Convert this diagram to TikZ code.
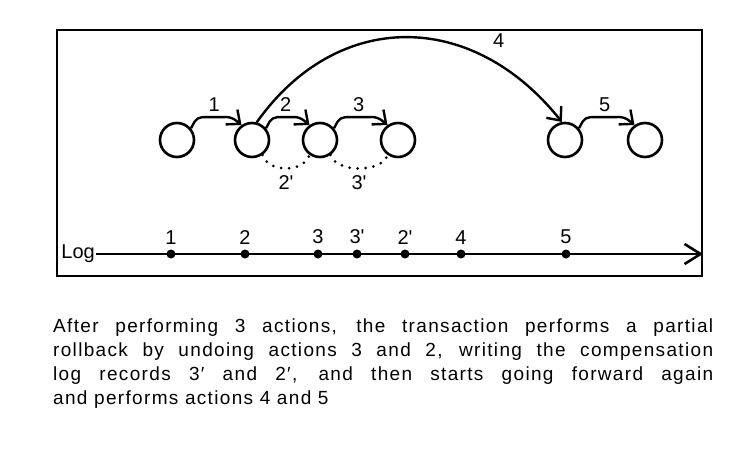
\documentclass[tikz,border=0pt]{standalone}
\usepackage{fontspec}
\setmainfont{Liberation Sans}
\newfontfamily\capfont{Liberation Sans}[LetterSpace=7]
\usetikzlibrary{arrows.meta, calc}

\tikzset{
  state/.style={circle, draw, line width=2.6pt, minimum size=34pt, inner sep=0pt},
  act/.style={-{Straight Barb[length=11pt, width=19pt]}, line width=2.4pt},
  undo/.style={line width=3pt, line cap=round, dash pattern=on 0pt off 8pt},
  lbl/.style={font=\fontsize{20}{22}\selectfont, inner sep=1pt},
  rec/.style={circle, fill=black, inner sep=0pt, minimum size=9pt},
  capstyle/.style={inner sep=0pt, text width=660pt, align=justify,
                   font=\capfont\fontsize{19}{23.8}\selectfont},
}

\begin{document}
\begin{tikzpicture}[x=1pt, y=-1pt]
  \useasboundingbox (0,0) rectangle (744,476);
  \draw[line width=1.8pt] (57,30) rectangle (702,276);
  % states of the transaction
  \foreach \x [count=\i] in {177, 252, 320, 398, 565, 645}
    \node[state] (s\i) at (\x,140) {};
  % forward actions
  \foreach \a/\b/\n in {1/2/1, 2/3/2, 3/4/3, 5/6/5}
    \draw[act, rounded corners=5pt] (s\a.40) -- ++(6,-11)
      -- node[lbl, above=3pt]{\n} ($(s\b.125)+(-10,-8)$) -- (s\b.125);
  % partial rollback
  \draw[undo] (s2.-55) .. controls +(6,18) and +(-6,18) ..
    node[lbl, below=5pt]{2\textquotesingle} (s3.-125);
  \draw[undo] (s3.-55) .. controls +(6,18) and +(-6,18) ..
    node[lbl, below=5pt]{3\textquotesingle} (s4.-125);
  % going forward again
  \draw[act] (s2.75) .. controls +(80,-113) and +(-90,-113) ..
    node[lbl, pos=0.77, above=12pt, xshift=5pt]{4} (s5.100);
  % the log
  \node[lbl, anchor=east] (log) at (96,254) {Log};
  \coordinate (logend) at (703,254);
  \draw[line width=2.6pt, -{Straight Barb[length=16pt, width=20pt]}] (log) -- (logend);
  \foreach \x/\t [count=\i] in {171/1, 245/2, 318/3, 357/3\textquotesingle,
                                405/2\textquotesingle, 461/4, 566/5}
    \node[rec, label={[lbl, label distance=4pt]above:\t}] (r\i) at (\x,254) {};
  % caption
  \node[capstyle, anchor=north west] (cap) at (53,319) {After performing 3 actions,
    the transaction performs a partial\linebreak rollback by undoing actions 3 and 2,
    writing the compensation\linebreak log records 3′ and 2′, and then starts going
    forward again\linebreak and performs actions 4 and 5};
\end{tikzpicture}
\end{document}
